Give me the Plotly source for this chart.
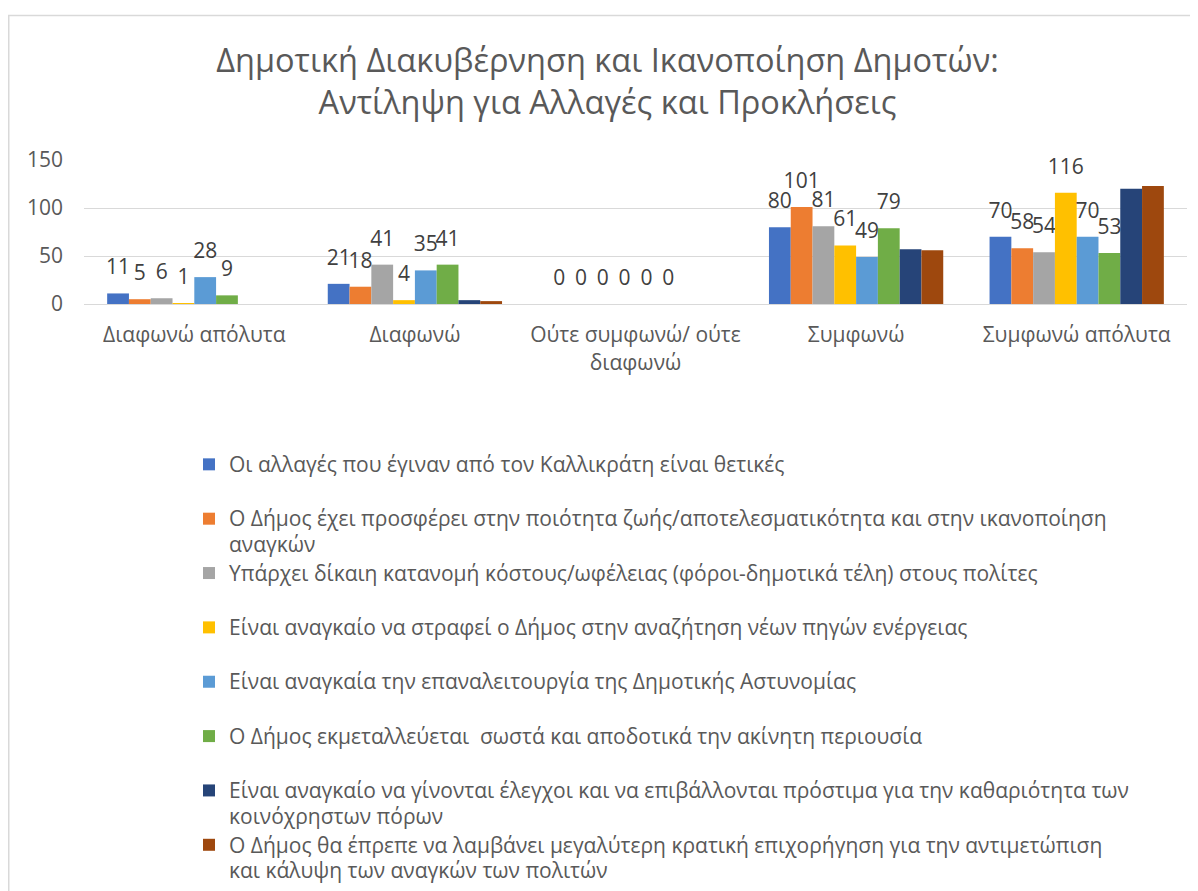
import plotly.graph_objects as go

categories = ["Διαφωνώ απόλυτα", "Διαφωνώ", "Ούτε συμφωνώ/ ούτε<br>διαφωνώ", "Συμφωνώ", "Συμφωνώ απόλυτα"]

series_names = [
    "Οι αλλαγές που έγιναν από τον Καλλικράτη είναι θετικές",
    "Ο Δήμος έχει προσφέρει στην ποιότητα ζωής/αποτελεσματικότητα και στην ικανοποίηση<br>αναγκών",
    "Υπάρχει δίκαιη κατανομή κόστους/ωφέλειας (φόροι-δημοτικά τέλη) στους πολίτες",
    "Είναι αναγκαίο να στραφεί ο Δήμος στην αναζήτηση νέων πηγών ενέργειας",
    "Είναι αναγκαία την επαναλειτουργία της Δημοτικής Αστυνομίας",
    "Ο Δήμος εκμεταλλεύεται  σωστά και αποδοτικά την ακίνητη περιουσία",
    "Είναι αναγκαίο να γίνονται έλεγχοι και να επιβάλλονται πρόστιμα για την καθαριότητα των<br>κοινόχρηστων πόρων",
    "Ο Δήμος θα έπρεπε να λαμβάνει μεγαλύτερη κρατική επιχορήγηση για την αντιμετώπιση<br>και κάλυψη των αναγκών των πολιτών",
]

s1 = [11, 21, 0, 80, 70]
s2 = [5, 18, 0, 101, 58]
s3 = [6, 41, 0, 81, 54]
s4 = [1, 4, 0, 61, 116]
s5 = [28, 35, 0, 49, 70]
s6 = [9, 41, 0, 79, 53]
s7 = [0, 4, 0, 57, 120]
s8 = [0, 3, 0, 56, 123]

series_values = [s1, s2, s3, s4, s5, s6, s7, s8]
show_labels = [True, True, True, True, True, True, False, False]

colors = ["#4472C4", "#ED7D31", "#A5A5A5", "#FFC000", "#5B9BD5", "#70AD47", "#264478", "#9E480E"]

y_ticks = [0, 50, 100, 150]

# the page has an 8px body margin, so figure coordinates are page coordinates minus 8
W, H = 1190, 883
L, R, T, B = 76, 11, 152, 587

def legend_label(name):
    lines = name.split("<br>")
    out = ["<span style='font-size:21px'>%s</span>" % ln for ln in lines]
    if len(out) == 1:
        out.append(" ")
    return "<br>".join(out)

fig = go.Figure()
for i, (name, vals) in enumerate(zip(series_names, series_values)):
    if show_labels[i]:
        text = ["<span style='font-size:21px'>%d</span><br> " % v for v in vals]
    else:
        text = None
    fig.add_trace(go.Bar(
        x=categories, y=vals, name=legend_label(name),
        marker=dict(color=colors[i], line=dict(width=0)),
        text=text, textposition="outside" if text else "none",
        textfont=dict(size=10, color="#404040", family="Open Sans"),
        constraintext="none", cliponaxis=False,
        hoverinfo="skip",
    ))

pw = W - L - R
ph = H - T - B
def px_x(p):
    return (p - L) / pw
def px_y(p):
    return (H - B - p) / ph

fig.update_layout(
    width=W, height=H,
    margin=dict(l=L, r=R, t=T, b=B, autoexpand=False),
    paper_bgcolor="white", plot_bgcolor="white",
    barmode="group", bargap=0.21, bargroupgap=0,
    font=dict(family="Open Sans", color="#595959", size=21),
    title=dict(
        text="Δημοτική Διακυβέρνηση και Ικανοποίηση Δημοτών:<br>Αντίληψη για Αλλαγές και Προκλήσεις",
        font=dict(size=32.5, color="#595959", family="Open Sans"),
        x=599.5 / W, xref="container", xanchor="center",
        y=1 - 64 / H, yref="container", yanchor="top",
    ),
    xaxis=dict(
        showgrid=False, showline=True, linecolor="#D9D9D9", linewidth=1,
        ticks="", tickfont=dict(size=21, color="#595959"),
        ticklabelstandoff=12, automargin=False,
    ),
    yaxis=dict(
        range=[0, 150], tickvals=y_ticks, ticktext=[str(v) for v in y_ticks],
        showgrid=True, gridcolor="#D9D9D9", gridwidth=1,
        zeroline=False, showline=False, ticks="",
        tickfont=dict(size=21, color="#595959"),
        ticklabelstandoff=20, automargin=False,
    ),
    legend=dict(
        orientation="v", x=px_x(181), xanchor="left",
        y=px_y(437), yanchor="top", valign="top",
        font=dict(size=19.75, color="#595959", family="Open Sans"),
        traceorder="normal",
        bgcolor="rgba(0,0,0,0)", maxheight=2000,
    ),
    shapes=[
        dict(type="line", xref="paper", yref="paper",
             x0=px_x(0), x1=px_x(1200), y0=px_y(7.5), y1=px_y(7.5),
             line=dict(color="#D9D9D9", width=1.5)),
        dict(type="line", xref="paper", yref="paper",
             x0=px_x(0.75), x1=px_x(0.75), y0=px_y(7.5), y1=px_y(900),
             line=dict(color="#D9D9D9", width=1.5)),
    ],
    showlegend=True,
)

fig.write_html("out.html")
